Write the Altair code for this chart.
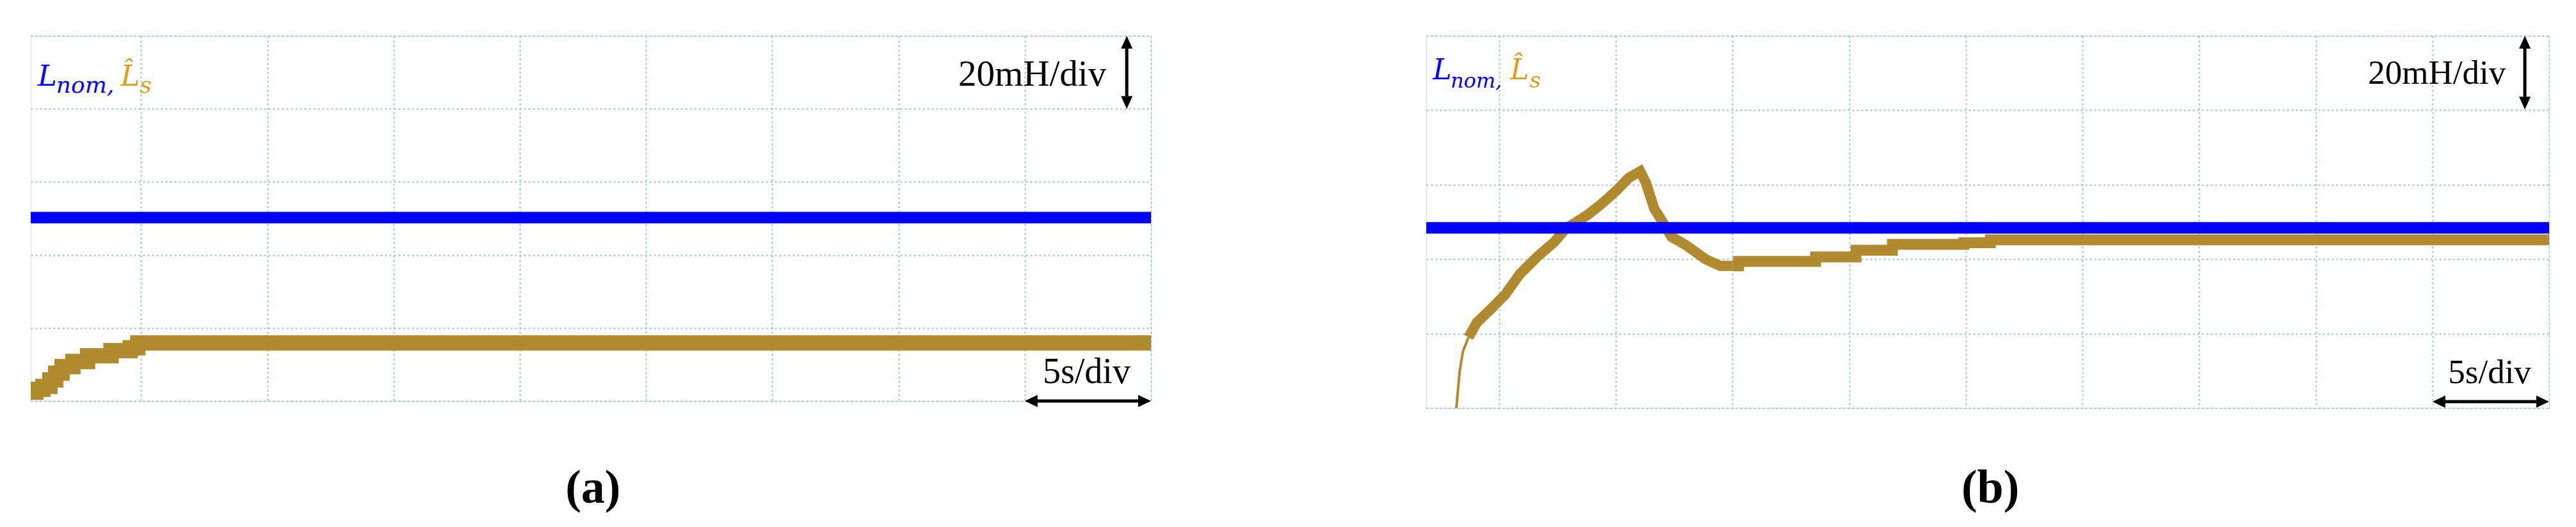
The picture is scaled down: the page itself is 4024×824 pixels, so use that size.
import altair as alt
import pandas as pd

# ---------------- data ----------------
# time in s (5 s/div), inductance in mH (20 mH/div)

# panel (a)
a_est_t = [-4.37, -4.17, -3.89, -3.61, -3.38, -3.13, -2.70, -2.12, -1.19, -0.43, -0.13, 40.0]
a_est_v = [2.4, 3.2, 4.0, 5.8, 7.6, 9.4, 10.8, 12.4, 13.8, 14.6, 15.9, 15.9]
a_nom_t = [-4.37, 40.0]
a_nom_v = [50.2, 50.2]

# panel (b)
b_start_t = [-1.84, -1.70, -1.56, -1.32]
b_start_v = [0.0, 9.8, 15.2, 19.0]
b_rise_t = [-1.32, -0.96, -0.33, 0.27, 0.88, 1.62, 2.36, 2.85, 3.81, 4.45, 5.05, 5.54,
            6.04, 6.28, 6.64, 7.00, 7.38, 7.99, 8.84, 9.47, 10.0]
b_rise_v = [19.0, 23.0, 26.8, 30.6, 36.0, 40.6, 44.6, 48.2, 52.0, 55.2, 58.6, 61.8,
            63.6, 60.6, 53.6, 50.0, 46.0, 43.8, 40.0, 38.2, 38.2]
b_tail_t = [10.0, 10.26, 13.56, 15.29, 16.85, 19.92, 21.05, 45.0]
b_tail_v = [38.2, 39.4, 40.6, 42.4, 44.0, 44.4, 45.2, 45.2]
b_nom_t = [-3.13, 45.0]
b_nom_v = [48.4, 48.4]

y_grid = [0, 20, 40, 60, 80, 100]
a_x_grid = [0, 5, 10, 15, 20, 25, 30, 35, 40]
b_x_grid = [0, 5, 10, 15, 20, 25, 30, 35, 40, 45]

BLUE = "#0000FF"
GOLD = "#B08A2E"
GOLD_TXT = "#D89F1C"
GRID = "#94C3D6"
SERIF = "Liberation Serif"
ITAL = "DejaVu Serif"

# shapes for arrow heads, tip at the anchor point
HEAD_UP = "M0,0 L0.9,2 L-0.9,2 Z"
HEAD_DOWN = "M0,0 L0.9,-2 L-0.9,-2 Z"
HEAD_RIGHT = "M0,0 L-2,0.95 L-2,-0.95 Z"
HEAD_LEFT = "M0,0 L2,0.95 L2,-0.95 Z"


def panel(cfg):
    xs = alt.Scale(domain=cfg["xdom"], nice=False, zero=False)
    ys = alt.Scale(domain=[0, 100], nice=False, zero=False)
    grid_x = alt.Axis(values=cfg["xgrid"], grid=True, gridColor=GRID, gridDash=[3, 4],
                      gridWidth=2, gridOpacity=1, labels=False, ticks=False, domain=False,
                      title=None, minExtent=0, maxExtent=0)
    grid_y = alt.Axis(values=y_grid, grid=True, gridColor=GRID, gridDash=[3, 4],
                      gridWidth=2, gridOpacity=1, labels=False, ticks=False, domain=False,
                      title=None, minExtent=0, maxExtent=0)

    def X(field="t"):
        return alt.X(f"{field}:Q", scale=xs, axis=grid_x)

    def Y(field="v"):
        return alt.Y(f"{field}:Q", scale=ys, axis=grid_y)

    layers = []

    # estimated inductance traces
    for seg in cfg["gold"]:
        df = pd.DataFrame({"t": seg["t"], "v": seg["v"]})
        layers.append(alt.Chart(df).mark_line(color=GOLD, strokeWidth=seg["w"], clip=True,
                                              interpolate=seg["interp"], strokeJoin="miter")
                      .encode(x=X(), y=Y(), order="t:Q"))
    # nominal
    ndf = pd.DataFrame({"t": cfg["nom_t"], "v": cfg["nom_v"]})
    layers.append(alt.Chart(ndf).mark_line(color=BLUE, strokeWidth=18, clip=True)
                  .encode(x=X(), y=Y()))

    # vertical scale arrow
    va = cfg["varrow"]
    vdf = pd.DataFrame({"t": [va[0]], "v": [va[1] + 1.5], "v2": [va[2] - 1.5]})
    layers.append(alt.Chart(vdf).mark_rule(color="black", strokeWidth=5, clip=True)
                  .encode(x=X(), y=Y(), y2="v2:Q"))
    layers.append(alt.Chart(pd.DataFrame({"t": [va[0]], "v": [va[2]]}))
                  .mark_point(shape=HEAD_UP, size=400, filled=True, color="black", opacity=1)
                  .encode(x=X(), y=Y()))
    layers.append(alt.Chart(pd.DataFrame({"t": [va[0]], "v": [va[1]]}))
                  .mark_point(shape=HEAD_DOWN, size=400, filled=True, color="black", opacity=1)
                  .encode(x=X(), y=Y()))
    # horizontal scale arrow
    ha = cfg["harrow"]
    hdf = pd.DataFrame({"t": [ha[0] + 0.2], "t2": [ha[1] - 0.2], "v": [ha[2]]})
    layers.append(alt.Chart(hdf).mark_rule(color="black", strokeWidth=5)
                  .encode(x=X(), x2="t2:Q", y=Y()))
    layers.append(alt.Chart(pd.DataFrame({"t": [ha[0]], "v": [ha[2]]}))
                  .mark_point(shape=HEAD_LEFT, size=400, filled=True, color="black", opacity=1)
                  .encode(x=X(), y=Y()))
    layers.append(alt.Chart(pd.DataFrame({"t": [ha[1]], "v": [ha[2]]}))
                  .mark_point(shape=HEAD_RIGHT, size=400, filled=True, color="black", opacity=1)
                  .encode(x=X(), y=Y()))

    # texts
    for txt in cfg["texts"]:
        tdf = pd.DataFrame({"t": [txt["t"]], "v": [txt["v"]], "s": [txt["s"]]})
        layers.append(alt.Chart(tdf).mark_text(align=txt.get("align", "left"), baseline="alphabetic",
                                               font=txt.get("font", SERIF), fontSize=txt["size"],
                                               fontStyle=txt.get("style", "normal"),
                                               fontWeight=txt.get("weight", "normal"),
                                               color=txt.get("color", "black"))
                      .encode(x=X(), y=Y(), text="s:N"))

    return alt.layer(*layers).properties(width=cfg["w"], height=cfg["h"])


cfg_a = {
    "xdom": [-4.37, 40.0], "xgrid": a_x_grid, "w": 1750, "h": 571,
    "gold": [{"t": a_est_t, "v": a_est_v, "w": 24, "interp": "step-after"}],
    "nom_t": a_nom_t, "nom_v": a_nom_v,
    "varrow": (39.04, 80.0, 100.0),
    "harrow": (35.0, 40.0, 0.0),
    "texts": [
        {"t": -4.09, "v": 86.4, "s": "L", "size": 45, "style": "italic", "font": ITAL, "color": BLUE},
        {"t": -3.36, "v": 84.4, "s": "nom,", "size": 36, "style": "italic", "font": ITAL, "color": BLUE},
        {"t": -0.81, "v": 86.4, "s": "L\u0302", "size": 45, "style": "italic", "font": ITAL, "color": GOLD_TXT},
        {"t": -0.05, "v": 84.4, "s": "s", "size": 36, "style": "italic", "font": ITAL, "color": GOLD_TXT},
        {"t": 38.23, "v": 86.4, "s": "20mH/div", "size": 57, "align": "right"},
        {"t": 37.45, "v": 4.9, "s": "5s/div", "size": 56, "align": "center"},
        {"t": 17.9, "v": -27.8, "s": "(a)", "size": 74, "align": "center", "weight": "bold"},
    ],
}

cfg_b = {
    "xdom": [-3.13, 45.0], "xgrid": b_x_grid, "w": 1754, "h": 582,
    "gold": [{"t": b_start_t, "v": b_start_v, "w": 4, "interp": "linear"},
             {"t": b_rise_t, "v": b_rise_v, "w": 16, "interp": "linear"},
             {"t": b_tail_t, "v": b_tail_v, "w": 17, "interp": "step-after"}],
    "nom_t": b_nom_t, "nom_v": b_nom_v,
    "varrow": (43.96, 80.2, 100.0),
    "harrow": (40.0, 45.0, 1.7),
    "texts": [
        {"t": -2.85, "v": 88.3, "s": "L", "size": 44, "style": "italic", "font": ITAL, "color": BLUE},
        {"t": -2.09, "v": 86.0, "s": "nom,", "size": 32, "style": "italic", "font": ITAL, "color": BLUE},
        {"t": 0.47, "v": 88.3, "s": "L\u0302", "size": 44, "style": "italic", "font": ITAL, "color": GOLD_TXT},
        {"t": 1.3, "v": 86.0, "s": "s", "size": 34, "style": "italic", "font": ITAL, "color": GOLD_TXT},
        {"t": 43.14, "v": 87.1, "s": "20mH/div", "size": 53, "align": "right"},
        {"t": 42.45, "v": 6.7, "s": "5s/div", "size": 53, "align": "center"},
        {"t": 21.05, "v": -25.5, "s": "(b)", "size": 74, "align": "center", "weight": "bold"},
    ],
}

chart = (
    alt.hconcat(panel(cfg_a), panel(cfg_b), spacing=430, bounds="flush")
    .properties(padding={"left": 39, "top": 47, "right": 0, "bottom": 0})
    .configure_view(stroke=None, strokeWidth=0)
    .configure(background="white")
)

chart.save("out.html", embed_options={"renderer": "svg", "actions": False})
